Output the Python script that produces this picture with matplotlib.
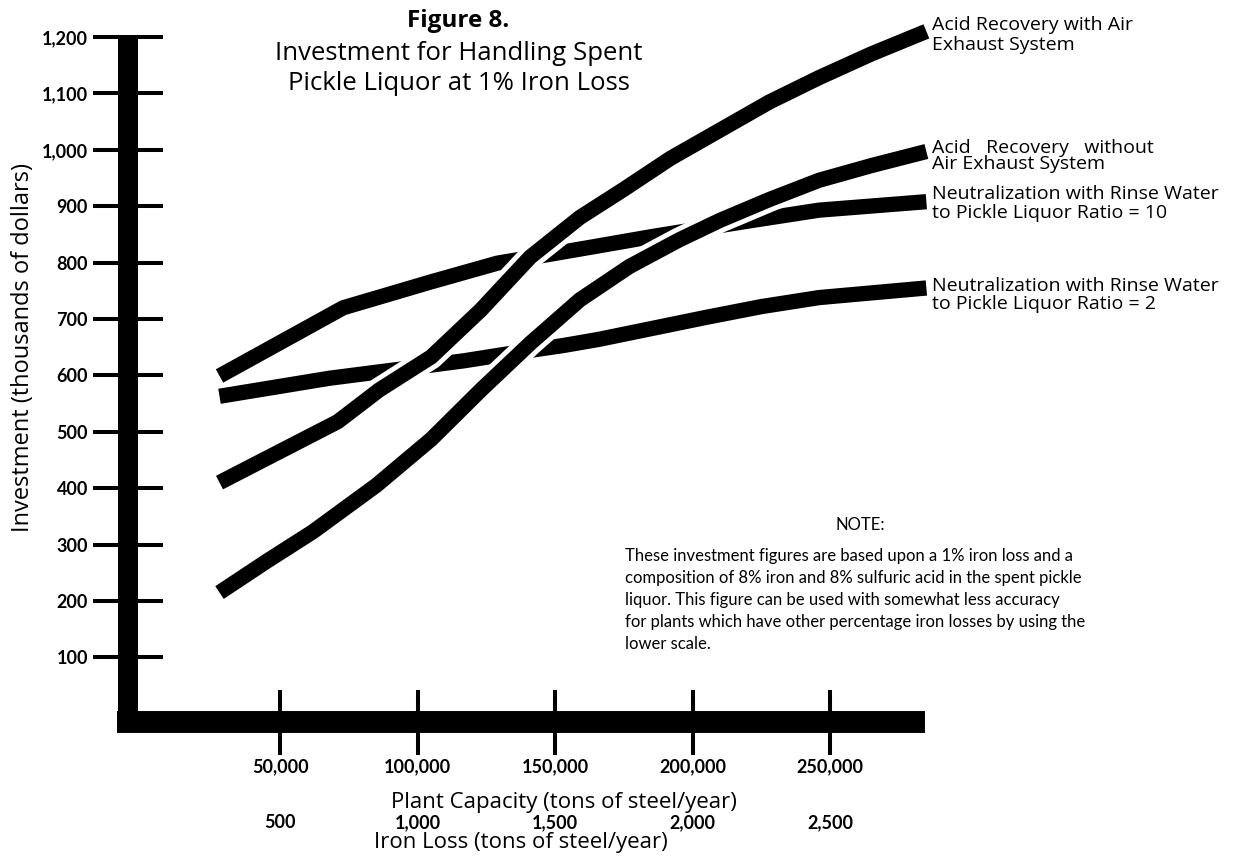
import matplotlib
matplotlib.use('Agg')
import matplotlib.pyplot as plt
from matplotlib import patheffects as pe

plt.rcParams['font.family'] = ['Open Sans', 'DejaVu Sans']

# plant capacity in thousand tons of steel/year, investment in thousand dollars
n10_x = [28, 73, 105, 129, 146, 165, 185, 204, 222, 246, 285]
n10_y = [599, 720, 766, 799, 813, 829, 846, 861, 875, 893, 908]

n2_x = [28, 68, 92, 117, 139, 153, 166, 185, 205, 225, 246, 285]
n2_y = [563, 595, 610, 626, 643, 653, 664, 683, 703, 722, 738, 755]

awa_x = [28, 47.5, 71, 86, 105, 123, 141, 159, 175, 192, 210, 228, 246, 265, 285]
awa_y = [410, 459, 518, 574, 633, 716, 810, 880, 930, 985, 1035, 1085, 1128, 1170, 1210]

awoa_x = [28, 45, 62, 85, 105, 123, 141, 159, 177, 195, 210, 228, 246, 265, 285]
awoa_y = [215, 270, 323, 405, 487, 574, 657, 734, 793, 840, 875, 912, 946, 972, 997]

cap_ticks = [50, 100, 150, 200, 250]
cap_labels = ['50,000', '100,000', '150,000', '200,000', '250,000']
iron_ticks = [500, 1000, 1500, 2000, 2500]
iron_labels = ['500', '1,000', '1,500', '2,000', '2,500']
inv_ticks = [100, 200, 300, 400, 500, 600, 700, 800, 900, 1000, 1100, 1200]
inv_labels = ['100', '200', '300', '400', '500', '600', '700', '800', '900',
              '1,000', '1,100', '1,200']

W, H = 1245, 860
fig = plt.figure(figsize=(W / 100, H / 100), dpi=100)
# axes box in pixels: left 128, right 914, top 37, bottom 722
ax = fig.add_axes([128 / W, (H - 722) / H, (914 - 128) / W, (722 - 37) / H])
ax.set_xlim(-5.27, 280.5)
ax.set_ylim(-14.5, 1200)

lw = 11
halo = [pe.withStroke(linewidth=lw + 7, foreground='white')]
for xs, ys in [(n10_x, n10_y), (n2_x, n2_y)]:
    ax.plot(xs, ys, color='black', lw=lw, solid_capstyle='butt',
            solid_joinstyle='round', clip_on=False, zorder=3)
for xs, ys in [(awa_x, awa_y), (awoa_x, awoa_y)]:
    ax.plot(xs, ys, color='black', lw=lw, solid_capstyle='butt',
            solid_joinstyle='round', clip_on=False, zorder=4, path_effects=halo)

for s in ['top', 'right']:
    ax.spines[s].set_visible(False)
ax.spines['left'].set_linewidth(14.4)
ax.spines['left'].set_capstyle('butt')
ax.spines['bottom'].set_linewidth(15.8)
ax.spines['bottom'].set_capstyle('projecting')

tick_font = dict(family=['Lato', 'DejaVu Sans'], fontweight='bold', fontsize=13)
ax.set_yticks(inv_ticks)
ax.set_yticklabels(inv_labels, **tick_font)
ax.set_xticks(cap_ticks)
ax.set_xticklabels(cap_labels, **tick_font)
ax.tick_params(axis='y', direction='inout', length=49.7, width=2.9, pad=4)
ax.tick_params(axis='x', direction='inout', length=46.8, width=2.9, pad=3)

ax.set_ylabel('Investment (thousands of dollars)', fontsize=17)
ax.yaxis.set_label_coords(-0.133, 0.547)
ax.yaxis.label.set_va('center')
ax.set_xlabel('Plant Capacity (tons of steel/year)', fontsize=16)
ax.xaxis.set_label_coords(0.555, -0.117)
ax.xaxis.label.set_va('center')

sec = ax.secondary_xaxis(-0.131, functions=(lambda x: x * 10, lambda x: x / 10))
sec.set_xticks(iron_ticks)
sec.set_xticklabels(iron_labels, **tick_font)
sec.spines['bottom'].set_visible(False)
sec.tick_params(length=0, pad=1.5)
sec.set_xlabel('Iron Loss (tons of steel/year)', fontsize=16, labelpad=1)

fig.text(458 / W, 1 - 21 / H, 'Figure 8.', ha='center', va='center',
         fontsize=17.5, fontweight='bold')
fig.text(459 / W, 1 - 68.5 / H, 'Investment for Handling Spent\nPickle Liquor at 1% Iron Loss',
         ha='center', va='center', fontsize=18.5, linespacing=1.25)

lx = 932 / W
fig.text(lx, 1 - 35 / H, 'Acid Recovery with Air\nExhaust System',
         ha='left', va='center', fontsize=14, linespacing=1.1)
fig.text(lx, 1 - 156 / H, 'Acid   Recovery   without\nAir Exhaust System',
         ha='left', va='center', fontsize=14, linespacing=0.85)
fig.text(lx, 1 - 203.5 / H, 'Neutralization with Rinse Water\nto Pickle Liquor Ratio = 10',
         ha='left', va='center', fontsize=14, linespacing=1.05)
fig.text(lx, 1 - 295 / H, 'Neutralization with Rinse Water\nto Pickle Liquor Ratio = 2',
         ha='left', va='center', fontsize=14, linespacing=1.05)

fig.text(860 / W, 1 - 525 / H, 'NOTE:', ha='center', va='center', fontsize=12,
         family=['Lato', 'DejaVu Sans'])
note = ('These investment figures are based upon a 1% iron loss and a\n'
        'composition of 8% iron and 8% sulfuric acid in the spent pickle\n'
        'liquor. This figure can be used with somewhat less accuracy\n'
        'for plants which have other percentage iron losses by using the\n'
        'lower scale.')
fig.text(625 / W, 1 - 600 / H, note, ha='left', va='center', fontsize=12,
         linespacing=1.45, family=['Lato', 'DejaVu Sans'])

fig.savefig('out.png', dpi=100, facecolor='white')
